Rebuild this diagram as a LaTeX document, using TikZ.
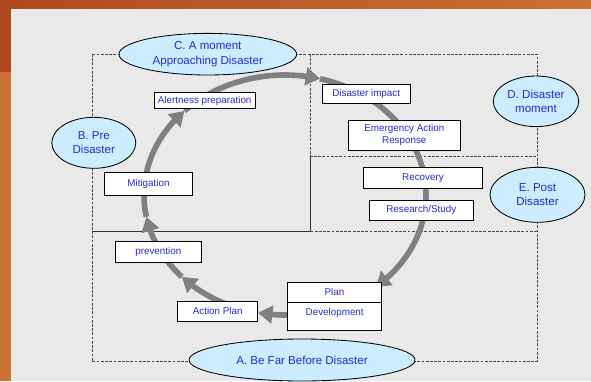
\documentclass[tikz,border=0pt]{standalone}
\usepackage{fontspec}
\setmainfont{Liberation Sans}
\usetikzlibrary{arrows.meta,bending}
\definecolor{txtblue}{RGB}{40,40,225}
\definecolor{ovalblue}{RGB}{204,236,255}
\definecolor{panel}{RGB}{233,233,233}
\definecolor{rust}{RGB}{176,72,30}
\definecolor{amber}{RGB}{201,113,50}
\definecolor{cyclegray}{RGB}{128,128,128}
\begin{document}
\begin{tikzpicture}[x=0.025cm,y=-0.025cm,
    stage/.style={draw=black,fill=white,text=txtblue,font=\fontsize{7}{8.3}\selectfont,align=center,inner sep=0pt,line width=0.6pt},
    oval/.style={draw=black,fill=ovalblue,line width=0.6pt},
    phasetext/.style={text=txtblue,font=\fontsize{8.2}{10}\selectfont,align=center,inner sep=0pt},
    region/.style={draw=black!70,line width=0.5pt,dash pattern=on 2pt off 1pt},
    split/.style={draw=black!80,line width=0.5pt},
    cyc/.style={draw=cyclegray,line width=4pt,-{Triangle[length=3.6mm,width=4.4mm]}}]
    \useasboundingbox (0,0) rectangle (591,381);
    % background
    \fill[panel] (0,0) rectangle (591,381);
    \fill[amber] (0,0) rectangle (11,381);
    \fill[rust] (0,0) rectangle (11,72);
    \shade[left color=rust,right color=amber] (0,0) rectangle (591,9);
    % regions
    \draw[region] (92,54) rectangle (537,361.5);
    \draw[region] (310.5,54) -- (310.5,156) -- (537,156);
    \draw[region] (310.5,231.5) -- (537,231.5);
    \draw[split] (92,231.5) -- (310.5,231.5) -- (310.5,156);
    % cycle
    \foreach \s/\e in {50/101,101/137,137/169.5,169.5/224.5,224.5/284.4,284.4/410}
        \draw[cyc] ([shift={(285,195)}]\s:141 and 120) arc[start angle=\s,end angle=\e,x radius=141,y radius=120];
    % steps
    \node[stage,minimum width=2.52cm,minimum height=0.41cm] (alert) at (204.7,100.5) {Alertness preparation};
    \node[stage,minimum width=2.21cm,minimum height=0.565cm] (mitig) at (148.5,184) {Mitigation};
    \node[stage,minimum width=2.19cm,minimum height=0.49cm] (impact) at (366.2,93.9) {Disaster impact};
    \node[stage,minimum width=2.8cm,minimum height=0.74cm] (emerg) at (404.3,135.2) {Emergency Action\\Response};
    \node[stage,minimum width=2.985cm,minimum height=0.525cm] (recov) at (423,177.8) {Recovery};
    \node[stage,minimum width=2.6cm,minimum height=0.5cm] (research) at (421.3,210) {Research/Study};
    \node[stage,minimum width=2.15cm,minimum height=0.51cm] (prevent) at (158.3,251.8) {prevention};
    \node[stage,minimum width=2cm,minimum height=0.5cm] (action) at (217.7,311) {Action Plan};
    \node[stage,minimum width=2.33cm,minimum height=0.5cm] (plan) at (334.4,292.3) {Plan};
    \node[stage,minimum width=2.35cm,minimum height=0.69cm,text height=5pt,text depth=6.2pt] (develop) at (334.7,316.2) {Development};
    % phases
    \draw[oval] (207.8,54.2) ellipse[x radius=88.8,y radius=20.8] node[phasetext] (approach) {C. A moment\\Approaching Disaster};
    \draw[oval] (93.8,142.8) ellipse[x radius=42,y radius=25.5] node[phasetext] (pre) {B. Pre\\Disaster};
    \draw[oval] (536,101.3) ellipse[x radius=42.7,y radius=25.3] node[phasetext] (moment) {D. Disaster\\moment};
    \draw[oval] (537.5,194.8) ellipse[x radius=47.5,y radius=27.5] node[phasetext] (post) {E. Post\\Disaster};
    \draw[oval] (302,360) ellipse[x radius=113,y radius=21] node[phasetext] (far) {A. Be Far Before Disaster};
\end{tikzpicture}
\end{document}
